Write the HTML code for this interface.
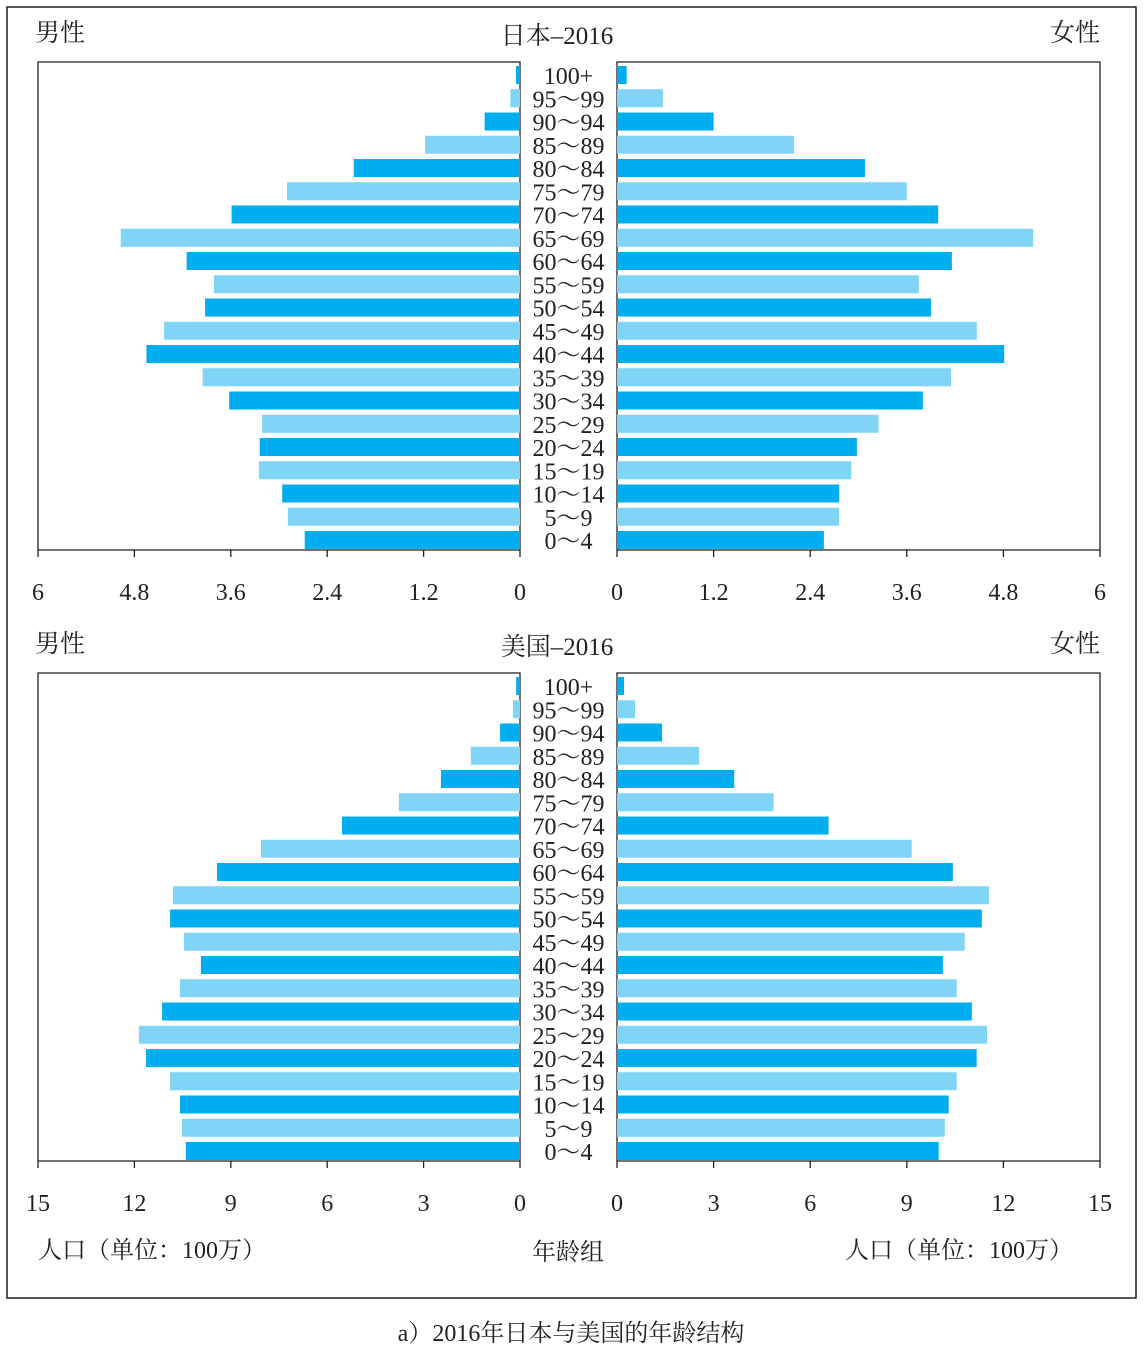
<!DOCTYPE html>
<html><head><meta charset="utf-8"><style>
body{margin:0;background:#fff}
svg text{font-family:"Liberation Serif","Noto Serif CJK SC",serif;fill:#231f20}
</style></head><body>
<svg width="1143" height="1353" viewBox="0 0 1143 1353">
<rect x="7" y="7" width="1129" height="1291" fill="none" stroke="#231f20" stroke-width="1.5"/>
<g id="root"></g>
<text x="571" y="1341" font-size="24" text-anchor="middle">a）2016年日本与美国的年龄结构</text>
<text x="38" y="1258" font-size="24">人口（单位：100万）</text>
<text x="568" y="1260" font-size="24" text-anchor="middle">年龄组</text>
<text x="845" y="1258" font-size="24">人口（单位：100万）</text>
</svg>
<script>
const ageGroups=["100+","95～99","90～94","85～89","80～84","75～79","70～74","65～69","60～64","55～59","50～54","45～49","40～44","35～39","30～34","25～29","20～24","15～19","10～14","5～9","0～4"];
const japanMale=[0.05,0.12,0.44,1.18,2.07,2.9,3.59,4.97,4.15,3.81,3.92,4.43,4.65,3.95,3.62,3.21,3.24,3.25,2.96,2.89,2.68];
const japanFemale=[0.12,0.57,1.2,2.2,3.08,3.6,3.99,5.17,4.16,3.75,3.9,4.47,4.81,4.15,3.8,3.25,2.98,2.91,2.76,2.76,2.57];
const usMale=[0.12,0.22,0.62,1.53,2.46,3.77,5.54,8.06,9.43,10.8,10.89,10.46,9.93,10.58,11.14,11.86,11.64,10.89,10.58,10.52,10.4];
const usFemale=[0.22,0.56,1.4,2.55,3.64,4.86,6.57,9.15,10.43,11.55,11.33,10.8,10.12,10.55,11.02,11.49,11.17,10.55,10.3,10.18,9.99];
const japanTicks=["0","1.2","2.4","3.6","4.8","6"];
const usTicks=["0","3","6","9","12","15"];
const japanMax=6, usMax=15;
const NS="http://www.w3.org/2000/svg";
const root=document.getElementById('root');
function el(tag,attrs,parent){const e=document.createElementNS(NS,tag);for(const k in attrs)e.setAttribute(k,attrs[k]);parent.appendChild(e);return e;}
function pyramid(prefix,title,top,bottom,male,female,ticks,max){
  const g=el('g',{},root);
  
  
  const L0=520,L1=38,R0=617,R1=1100;
  const xl=v=>L0-(L0-L1)*v/max, xr=v=>R0+(R1-R0)*v/max;
  const firstY=top+13,step=(bottom-10-firstY)/(ageGroups.length-1),bh=18;
  const t=el('text',{x:557,y:top-18,'font-size':25,'text-anchor':'middle'},g);t.textContent=title;
  
  
  const m=el('text',{x:35,y:top-21,'font-size':25},g);m.textContent='男性';
  
  
  const f=el('text',{x:1100,y:top-21,'font-size':25,'text-anchor':'end'},g);f.textContent='女性';
  
  
  const pl=el('path',{d:`M${L1} ${bottom}V${top}H${L0}V${bottom}H${L1}`,fill:'none',stroke:'#231f20','stroke-width':1.3},g);
  
  
  const pr=el('path',{d:`M${R0} ${bottom}V${top}H${R1}V${bottom}H${R0}`,fill:'none',stroke:'#231f20','stroke-width':1.3},g);
  
  
  ageGroups.forEach((a,i)=>{
    const cy=firstY+i*step,col=(i%2===0)?'#00aeef':'#80d4f6';
    const b1=el('rect',{x:xl(male[i]),y:cy-bh/2,width:L0-xl(male[i]),height:bh,fill:col},g);
    
    
    const b2=el('rect',{x:R0,y:cy-bh/2,width:xr(female[i])-R0,height:bh,fill:col},g);
    
    
    const lb=el('text',{x:568.5,y:cy+9,'font-size':24,'text-anchor':'middle'},g);lb.textContent=a;
    
    
  });
  ticks.forEach((tk,i)=>{
    const v=max*i/(ticks.length-1);
    [xl(v),xr(v)].forEach((x,s)=>{
      const ln=el('line',{x1:x,x2:x,y1:bottom,y2:bottom+7,stroke:'#231f20','stroke-width':1.3},g);
      
      
      const tx=el('text',{x:x,y:bottom+50,'font-size':24,'text-anchor':'middle'},g);tx.textContent=tk;
      
      
    });
  });
}
pyramid('japan','日本–2016',62,550,japanMale,japanFemale,japanTicks,japanMax);
pyramid('us','美国–2016',673,1161,usMale,usFemale,usTicks,usMax);
</script>
</body></html>
